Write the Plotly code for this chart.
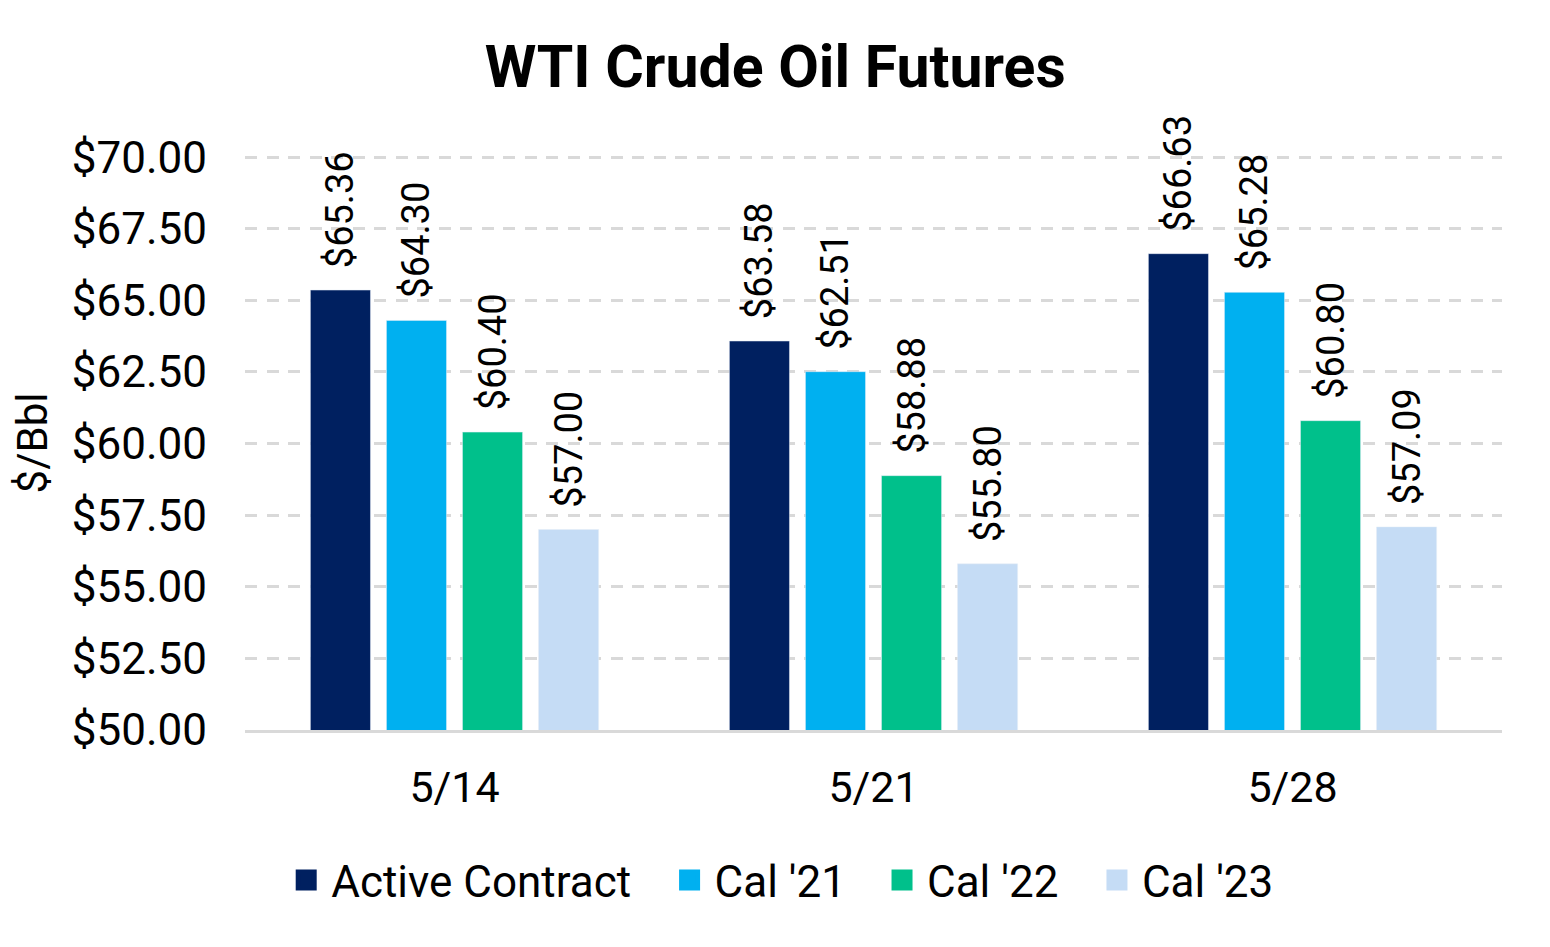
import plotly.graph_objects as go

categories = ["5/14", "5/21", "5/28"]
series_names = ["Active Contract", "Cal '21", "Cal '22", "Cal '23"]
active = [65.36, 63.58, 66.63]
cal21 = [64.30, 62.51, 65.28]
cal22 = [60.40, 58.88, 60.80]
cal23 = [57.00, 55.80, 57.09]
colors = ["#002060", "#00B0F0", "#00C08B", "#C5DCF5"]

legend_x = [0.0288, 0.3338, 0.5028, 0.6738]
legend_ids = ["legend", "legend2", "legend3", "legend4"]

fig = go.Figure()
for name, vals, c in zip(series_names, [active, cal21, cal22, cal23], colors):
    fig.add_trace(go.Bar(
        x=categories, y=vals, name=name, marker_color=c, showlegend=False,
        text=["\u00a0\u00a0" + f"${v:.2f}" for v in vals], textposition="outside",
        textangle=-90, textfont=dict(size=38, color="#000000"),
        constraintext="none", cliponaxis=False,
    ))
# legend entries
for name, c, lid in zip(series_names, colors, legend_ids):
    fig.add_trace(go.Scatter(
        x=[None], y=[None], mode="markers", name=name, legend=lid,
        marker=dict(symbol="square", size=16, color=c, line=dict(color=c, width=5)),
    ))

layout_legends = {}
for lid, lx in zip(legend_ids, legend_x):
    layout_legends[lid] = dict(orientation="h", x=lx, xanchor="left", y=-0.262,
                               yanchor="middle", font=dict(size=44, color="#000000"),
                               itemsizing="trace", itemwidth=40, bgcolor="rgba(0,0,0,0)")

fig.update_layout(
    width=1550, height=947,
    paper_bgcolor="white", plot_bgcolor="white",
    font=dict(family="Roboto", color="#000000"),
    title=dict(text="<b>WTI Crude Oil Futures</b>", x=0.495, xanchor="center",
               y=0.938, yanchor="middle", font=dict(size=59)),
    margin=dict(l=237, r=56, t=148, b=225),
    barmode="group", bargap=0.274, bargroupgap=0.21,
    **layout_legends,
)
fig.update_yaxes(range=[50, 70.04], tickvals=[50, 52.5, 55, 57.5, 60, 62.5, 65, 67.5, 70],
                 tickformat="$.2f", automargin=False,
                 showgrid=True, gridcolor="#D9D9D9", griddash="12px,9.5px", gridwidth=3,
                 tickfont=dict(size=44), zeroline=False, ticklabelstandoff=37,
                 title=dict(text="$/Bbl", font=dict(size=42), standoff=14))
fig.update_xaxes(showline=True, linecolor="#D9D9D9", linewidth=3, automargin=False,
                 tickfont=dict(size=43), ticks="", ticklabelstandoff=17)

fig.write_html("out.html")
